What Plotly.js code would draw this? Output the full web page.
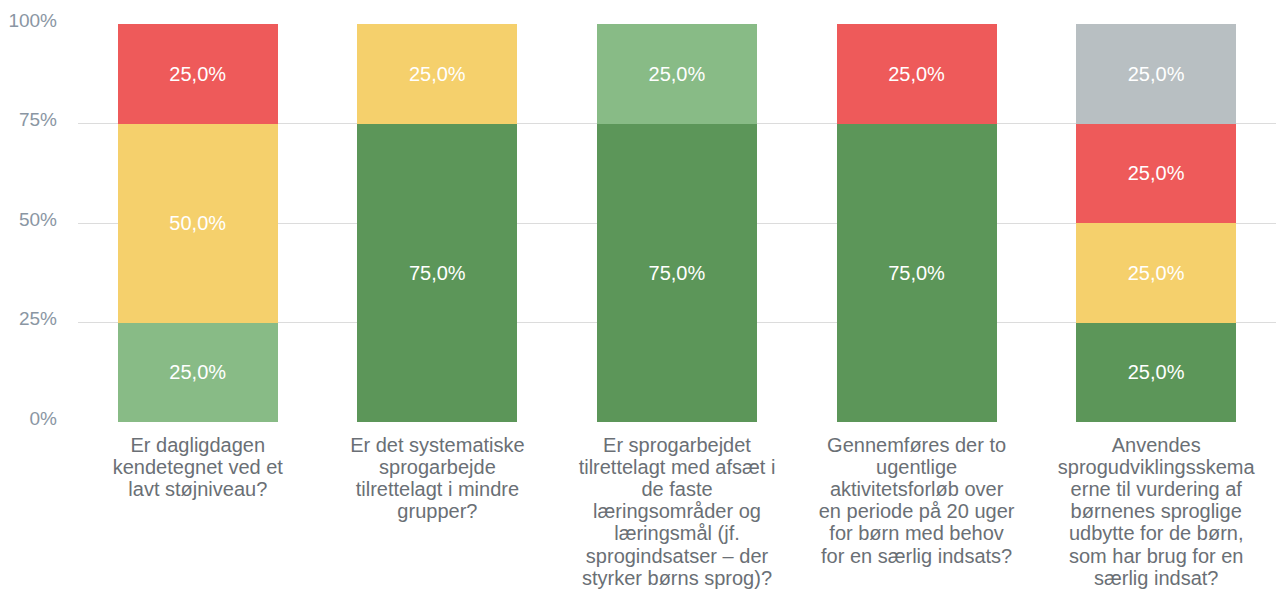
<!DOCTYPE html>
<html><head><meta charset="utf-8">
<script src="https://cdn.plot.ly/plotly-3.0.1.min.js"></script>
<style>html,body{margin:0;padding:0;background:#fff}#chart{width:1276px;height:593px}</style>
</head><body><div id="chart"></div>
<script>
var categories = [
  "Er dagligdagen<br>kendetegnet ved et<br>lavt støjniveau?",
  "Er det systematiske<br>sprogarbejde<br>tilrettelagt i mindre<br>grupper?",
  "Er sprogarbejdet<br>tilrettelagt med afsæt i<br>de faste<br>læringsområder og<br>læringsmål (jf.<br>sprogindsatser – der<br>styrker børns sprog)?",
  "Gennemføres der to<br>ugentlige<br>aktivitetsforløb over<br>en periode på 20 uger<br>for børn med behov<br>for en særlig indsats?",
  "Anvendes<br>sprogudviklingsskema<br>erne til vurdering af<br>børnenes sproglige<br>udbytte for de børn,<br>som har brug for en<br>særlig indsat?"
];
var seriesNames = ["I høj grad", "I nogen grad", "I mindre grad", "Slet ikke", "Ved ikke"];
var darkGreen = [0, 75, 75, 75, 25];
var lightGreen = [25, 0, 25, 0, 0];
var yellow = [50, 25, 0, 0, 25];
var red = [25, 0, 0, 25, 25];
var grey = [0, 0, 0, 0, 25];
var yTickVals = [0, 25, 50, 75, 100];
var yTickText = ["0%", "25%", "50%", "75%", "100%"];

var seriesValues = [darkGreen, lightGreen, yellow, red, grey];
var colors = ["#5c9659", "#88bb86", "#f5d06c", "#ee5a5a", "#b8bfc2"];
var x = [0,1,2,3,4];
var ticktext = categories.map(function(c){
  return c.split("<br>").map(function(l){ return '<span style="font-size:20px">' + l + '</span>'; }).join("<br>");
});
var FONT = "Arial, 'Liberation Sans', sans-serif";
var traces = seriesValues.map(function(vals, i){
  return {
    type: "bar", x: x, y: vals.map(function(v){return v === 0 ? null : v;}),
    name: seriesNames[i],
    marker: {color: colors[i], line: {width: 0}},
    texttemplate: "%{y:.1f}%", textposition: "inside", insidetextanchor: "middle",
    textfont: {color: "#ffffff", size: 20, family: FONT},
    hoverinfo: "none"
  };
});
var layout = {
  width: 1276, height: 593,
  barmode: "stack", bargap: 0.333,
  separators: ",.",
  showlegend: false,
  paper_bgcolor: "#fff", plot_bgcolor: "#fff",
  margin: {l: 78, r: 0, t: 24, b: 171, pad: 0},
  font: {family: FONT, size: 16, color: "#666"},
  xaxis: {
    tickvals: x, ticktext: ticktext, range: [-0.5, 4.5],
    showgrid: false, zeroline: false, showline: false, ticks: "",
    ticklabelstandoff: 12,
    tickfont: {size: 17, color: "#6a6f75", family: FONT}, automargin: false, fixedrange: true
  },
  yaxis: {
    range: [0, 100], tickvals: yTickVals, ticktext: yTickText,
    showgrid: true, gridcolor: "#dcdcdc", gridwidth: 1, zeroline: false,
    showline: false, ticks: "", ticklabelstandoff: 20, ticklabelshift: -4,
    tickfont: {size: 19, color: "#8a96a3", family: FONT}, automargin: false, fixedrange: true
  }
};
Plotly.newPlot("chart", traces, layout, {staticPlot: true});
</script></body></html>
